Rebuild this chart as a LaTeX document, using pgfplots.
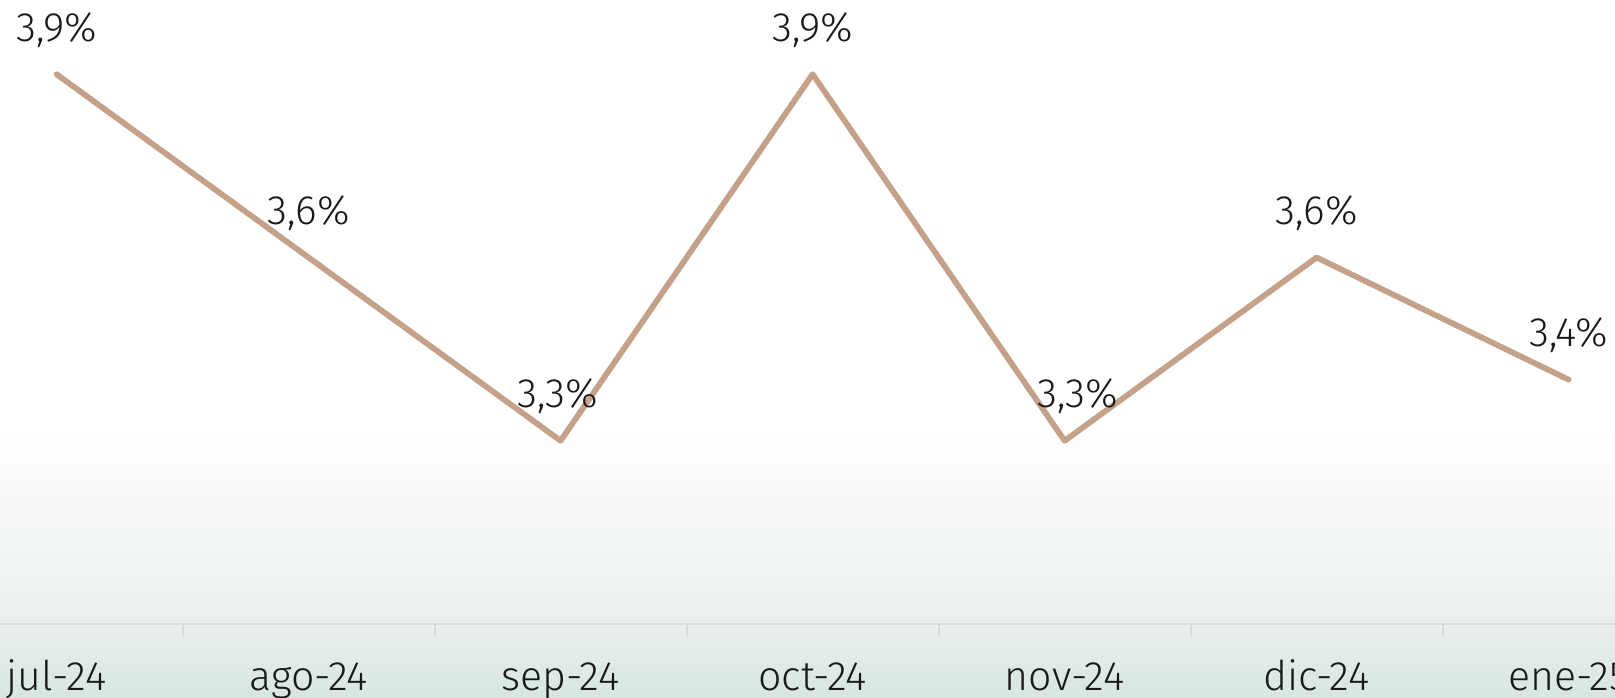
\documentclass[border=0pt]{standalone}
\usepackage{fontspec}
\setmainfont{Fira Sans Light}
\usepackage{pgfplots}
\pgfplotsset{compat=1.18}
\definecolor{linec}{RGB}{196,161,137}
\definecolor{gmid}{RGB}{233,239,237}
\definecolor{gbot}{RGB}{215,229,225}
\definecolor{axc}{RGB}{220,220,222}
\definecolor{txt}{RGB}{25,25,25}
\begin{document}
\begin{tikzpicture}
\begin{axis}[
  set layers,
  scale only axis, width=807.5bp, height=312bp,
  xmin=-0.2246, xmax=6.184, ymin=3.0, ymax=4.0216,
  clip=false,
  axis x line*=bottom, axis y line=none,
  x axis line style={draw=axc, line width=1bp, -},
  xtick={0,...,6},
  xticklabels={jul-24,ago-24,sep-24,oct-24,nov-24,dic-24,ene-25},
  minor xtick={0.5,1.5,...,5.5},
  major tick length=0pt, minor tick length=6.5bp, tick align=outside,
  minor tick style={draw=axc, line width=1bp},
  major tick style={draw=none},
  xticklabel style={font=\fontsize{20.5bp}{24bp}\selectfont, text=txt, anchor=base, inner sep=0pt, yshift=-33bp},
]
\pgfonlayer{axis background}
\fill[top color=white, bottom color=gmid, draw=none] (axis cs:-0.2246,3.32) rectangle (axis cs:6.184,3.0);
\fill[top color=gmid, bottom color=gbot, draw=none] (axis cs:-0.2246,3.0) rectangle (axis cs:6.184,2.8788);
\endpgfonlayer
\addplot[linec, line width=2.9bp, line join=round, line cap=round, mark=none,
  visualization depends on={x \as \xv},
  nodes near coords={\pgfmathprintnumber[fixed,fixed zerofill,precision=1,use comma,assume math mode=true]{\pgfplotspointmeta}\%},
  every node near coord/.append style={font=\fontsize{20.5bp}{24bp}\selectfont, text=txt, anchor=base, inner sep=0pt, yshift=16.4bp,
     xshift={(\xv==4)*6.5bp - (\xv==2)*1.5bp}},
]
  coordinates {(0,3.9) (1,3.6) (2,3.3) (3,3.9) (4,3.3) (5,3.6) (6,3.4)};
\end{axis}
\pgfresetboundingbox
\path[use as bounding box] ([yshift=-37bp]current axis.south west) rectangle (current axis.north east);
\end{tikzpicture}
\end{document}
